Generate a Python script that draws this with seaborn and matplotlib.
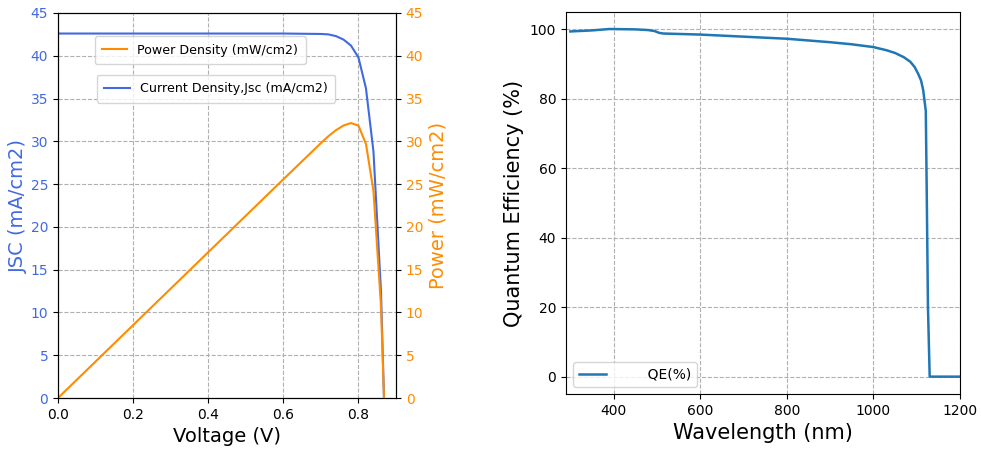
import matplotlib
matplotlib.use("Agg")
import matplotlib.pyplot as plt
import seaborn as sns
import numpy as np
import pandas as pd

# ---- data ----
voltage = [0.0, 0.1, 0.2, 0.3, 0.4, 0.5, 0.6, 0.7, 0.72, 0.74, 0.76, 0.78,
           0.80, 0.82, 0.84, 0.86, 0.868]
jsc = [42.6, 42.6, 42.6, 42.6, 42.6, 42.6, 42.6, 42.55, 42.5, 42.3, 41.9, 41.2,
       39.8, 36.2, 28.8, 12.5, 0.0]
power = [0.0, 4.26, 8.52, 12.78, 17.04, 21.3, 25.56, 29.79, 30.6, 31.3, 31.84, 32.14,
         31.84, 29.7, 24.2, 10.75, 0.0]

wavelength = [300, 350, 390, 450, 480, 495, 505, 515, 600, 700, 800, 900, 950, 1000,
              1030, 1050, 1070, 1085, 1095, 1103, 1110, 1115, 1118, 1121, 1123,
              1126, 1130, 1200]
qe = [99.4, 99.7, 100.1, 100.0, 99.8, 99.5, 99.0, 98.8, 98.5, 97.9, 97.3, 96.3, 95.7,
      94.9, 94.0, 93.2, 92.0, 90.7, 89.2, 87.3, 85.3, 82.5, 79.5, 76.5, 55.0,
      20.0, 0.0, 0.0]

iv = pd.DataFrame({"V": voltage, "J": jsc, "P": power})
qedf = pd.DataFrame({"wl": wavelength, "qe": qe})

blue = "#4169E1"
orange = "#FF8C00"

fig = plt.figure(figsize=(9.81, 4.5), dpi=100)
ax1 = fig.add_axes([58/981, 1-398/450, 338/981, 385/450])
ax3 = fig.add_axes([566/981, 1-394/450, 394/981, 382/450])

grid_kw = dict(linestyle="--", color="#b0b0b0", linewidth=0.8)

# ---- left: IV curve ----
sns.lineplot(data=iv, x="V", y="J", ax=ax1, color=blue, linewidth=1.5,
             label="Current Density,Jsc (mA/cm2)", sort=False)
ax1.set_xlim(0, 0.9)
ax1.set_ylim(0, 45)
ax1.set_xticks([0.0, 0.2, 0.4, 0.6, 0.8])
ax1.set_yticks(np.arange(0, 46, 5))
ax1.set_xlabel("Voltage (V)", fontsize=14)
ax1.set_ylabel("JSC (mA/cm2)", fontsize=14, color=blue, labelpad=2)
ax1.tick_params(axis="y", labelcolor=blue, labelsize=10)
ax1.tick_params(axis="x", labelsize=10)
ax1.grid(True, **grid_kw)
ax1.set_axisbelow(True)
ax1.legend(loc="upper left", bbox_to_anchor=(0.115, 0.84), borderaxespad=0,
           fontsize=9.1, borderpad=0.6)

ax2 = ax1.twinx()
sns.lineplot(data=iv, x="V", y="P", ax=ax2, color=orange, linewidth=1.5,
             label="Power Density (mW/cm2)", sort=False)
ax2.set_ylim(0, 45)
ax2.set_yticks(np.arange(0, 46, 5))
ax2.set_ylabel("Power (mW/cm2)", fontsize=14, color=orange)
ax2.tick_params(axis="y", labelcolor=orange, labelsize=10)
ax2.legend(loc="upper left", bbox_to_anchor=(0.108, 0.94), borderaxespad=0,
           fontsize=9.1, borderpad=0.6)

# ---- right: QE ----
sns.lineplot(data=qedf, x="wl", y="qe", ax=ax3, color="#1f77b4", linewidth=1.8,
             label="       QE(%)", sort=False)
ax3.set_xlim(290, 1200)
ax3.set_ylim(-5, 105)
ax3.set_xticks([400, 600, 800, 1000, 1200])
ax3.set_yticks([0, 20, 40, 60, 80, 100])
ax3.set_xlabel("Wavelength (nm)", fontsize=15)
ax3.set_ylabel("Quantum Efficiency (%)", fontsize=15)
ax3.tick_params(labelsize=10)
ax3.grid(True, **grid_kw)
ax3.legend(loc="lower left", fontsize=10)

fig.savefig("out.png", dpi=100)
